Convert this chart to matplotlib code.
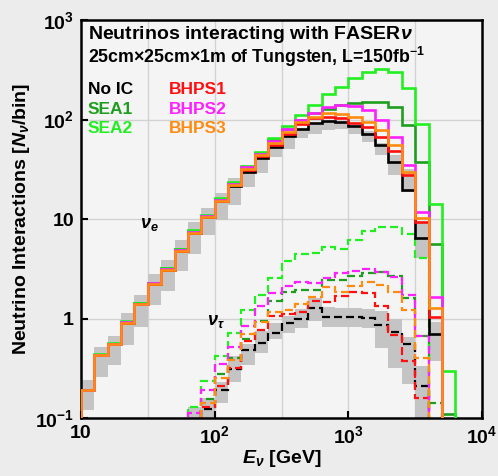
import numpy as np
import matplotlib
matplotlib.use("Agg")
import matplotlib.pyplot as plt
from matplotlib.ticker import NullLocator

plt.rcParams['font.family'] = ['Liberation Sans', 'DejaVu Sans']
plt.rcParams['font.weight'] = 'bold'
plt.rcParams['mathtext.fontset'] = 'custom'
plt.rcParams['mathtext.rm'] = 'Liberation Sans:bold'
plt.rcParams['mathtext.bf'] = 'Liberation Sans:bold'
plt.rcParams['mathtext.it'] = 'Liberation Sans:italic:bold'

# bin edges: 10 bins per decade, 10 GeV .. 10^3.8 GeV
edges = np.logspace(1.0, 3.8, 29)

# electron neutrinos (bins 0..27)
noic_e = [0.19, 0.43, 0.55, 0.91, 1.39, 2.2, 3.1, 4.8, 7.3, 10.4, 15.0, 21.5, 30, 41, 53,
          68, 81, 92, 96, 95, 86, 71, 55, 37, 19.5, 6.4, 0.70, 0.01]
sea1_e = [0.19, 0.43, 0.56, 0.93, 1.42, 2.27, 3.2, 4.95, 7.5, 10.7, 15.7, 22.8, 33, 46, 62,
          81, 100, 117, 127, 140, 148, 151, 150, 133, 89, 37, 5.6, 0.11]
sea2_e = [0.19, 0.44, 0.57, 0.94, 1.44, 2.3, 3.25, 5.05, 7.7, 11.0, 16.1, 23.7, 34, 47.5, 65,
          87, 111, 140, 180, 214, 260, 302, 319, 300, 209, 91, 14, 0.30]
bhps1_e = [0.19, 0.43, 0.55, 0.91, 1.39, 2.2, 3.1, 4.8, 7.3, 10.4, 15.1, 21.8, 31, 43, 56,
           72, 90, 103, 107, 103, 93, 84, 67, 48, 28, 9.3, 1.04, 0.01]
bhps2_e = [0.19, 0.43, 0.56, 0.92, 1.41, 2.25, 3.15, 4.9, 7.45, 10.6, 15.5, 22.5, 33, 45.5, 61,
           80, 100, 117, 133, 140, 138, 124, 99, 67, 35, 11.7, 1.66, 0.01]
bhps3_e = [0.19, 0.43, 0.55, 0.91, 1.39, 2.2, 3.1, 4.8, 7.3, 10.5, 15.2, 22, 32, 44, 57.5,
           75.5, 95, 107, 116, 113, 107, 95, 78.5, 56, 30, 10.2, 1.28, 0.01]
band_e_hi = [0.24, 0.52, 0.67, 1.13, 1.72, 2.8, 3.9, 6.1, 9.4, 12.8, 18.3, 25.8, 35, 45, 56,
             68, 81, 90, 95, 95, 88, 76, 58, 44, 32, 9.1, 0.93]
band_e_lo = [0.12, 0.26, 0.34, 0.54, 0.83, 1.37, 1.9, 3.0, 4.5, 6.9, 9.8, 13.9, 21, 29, 42,
             51, 65, 72, 79, 81, 72, 59, 44, 28, 18.8, 4.05, 0.37]

# tau neutrinos (bins 8..26)
noic_t = [0.08, 0.123, 0.19, 0.31, 0.48, 0.57, 0.71, 0.90, 1.0, 1.28, 1.03, 1.03, 1.04, 1.02,
          0.87, 0.74, 0.56, 0.21, 0.01]
sea1_t = [0.09, 0.155, 0.28, 0.40, 0.62, 0.95, 1.5, 1.85, 1.95, 1.93, 2.44, 2.44, 2.7, 2.84,
          2.9, 2.65, 1.6, 0.67, 0.14]
sea2_t = [0.128, 0.236, 0.42, 0.72, 1.22, 1.72, 2.54, 3.8, 4.5, 4.6, 5.25, 5.0, 6.15, 7.5,
          8.4, 8.4, 7.1, 4.1, 0.01]
bhps1_t = [0.07, 0.13, 0.21, 0.32, 0.59, 0.76, 1.05, 1.10, 1.15, 1.5, 1.48, 1.7, 1.83, 1.8,
           1.35, 0.68, 0.37, 0.16, 0.01]
bhps2_t = [0.113, 0.19, 0.35, 0.52, 0.85, 1.35, 1.8, 2.1, 2.35, 2.29, 2.54, 2.84, 3.02, 3.12,
           2.95, 2.6, 1.74, 0.67, 0.01]
bhps3_t = [0.08, 0.14, 0.25, 0.38, 0.70, 0.93, 1.15, 1.22, 1.40, 1.66, 2.06, 1.86, 2.12, 2.35,
           2.17, 1.86, 1.22, 0.40, 0.01]
band_t_hi = [0.13, 0.16, 0.23, 0.42, 0.55, 0.75, 0.9, 1.05, 1.25, 1.6, 1.3, 1.28, 1.28, 1.26,
             1.2, 1.0, 0.65, 0.33]
band_t_lo = [0.06, 0.09, 0.14, 0.23, 0.34, 0.45, 0.62, 0.72, 0.8, 0.95, 0.82, 0.82, 0.82, 0.8,
             0.5, 0.32, 0.22, 0.05]

models = ['No IC', 'SEA1', 'SEA2', 'BHPS1', 'BHPS2', 'BHPS3']
colors = ['black', '#1e9e1e', '#22ee22', '#ff1010', '#ff20ff', '#ff8c10']
nue = [noic_e, sea1_e, sea2_e, bhps1_e, bhps2_e, bhps3_e]
nutau = [noic_t, sea1_t, sea2_t, bhps1_t, bhps2_t, bhps3_t]

fig = plt.figure(figsize=(4.98, 4.76), dpi=100, facecolor='#ececec')
ax = fig.add_axes([81/498, 1-418/476, 401/498, 398/476])
ax.set_facecolor('#f4f4f4')
ax.set_xscale('log')
ax.set_yscale('log')
ax.set_xlim(10, 1e4)
ax.set_ylim(0.1, 1e3)

# grid: half decades in x, decades in y
for gx in 10 ** np.arange(1.5, 4.0, 0.5):
    ax.axvline(gx, color='#d2d2d2', lw=1, zorder=0)
for gy in [1, 10, 100]:
    ax.axhline(gy, color='#d2d2d2', lw=1, zorder=0)

# uncertainty bands
ax.stairs(band_e_hi, edges[:28], baseline=band_e_lo, fill=True, color='#c4c4c4', lw=0, zorder=1)
ax.stairs(band_t_hi, edges[8:27], baseline=band_t_lo, fill=True, color='#c4c4c4', lw=0, zorder=1)

for vals, c in zip(nutau, colors):
    ax.stairs(vals, edges[8:28], baseline=1e-3, color=c, lw=1.6,
              linestyle=(0, (3.6, 1.8)), zorder=2)
for vals, c in zip(nue, colors):
    ax.stairs(vals, edges, baseline=1e-3, color=c, lw=1.9, zorder=3)

ax.set_xticks([10, 100, 1000, 10000], ['10', r'$10^2$', r'$10^3$', r'$10^4$'])
ax.set_yticks([0.1, 1, 10, 100, 1000], [r'$10^{-1}$', '1', '10', r'$10^2$', r'$10^3$'])
ax.xaxis.set_minor_locator(NullLocator())
ax.yaxis.set_minor_locator(NullLocator())
ax.tick_params(direction='in', length=5, width=1.5, labelsize=14, pad=5)
for s in ax.spines.values():
    s.set_linewidth(1.8)

ax.set_xlabel(r'$E_\nu$ [GeV]', fontsize=14, fontweight='bold', labelpad=1)
ax.set_ylabel(r'Neutrino Interactions [$N_\nu$/bin]', fontsize=14, fontweight='bold', labelpad=2)

ax.text(0.0175, 0.990, r'Neutrinos interacting with FASER$\nu$', transform=ax.transAxes,
        fontsize=14, fontweight='bold', va='top', ha='left')
ax.text(0.0175, 0.938, r'25cm$\times$25cm$\times$1m of Tungsten, L=150fb$^{-1}$',
        transform=ax.transAxes, fontsize=12.8, fontweight='bold', va='top', ha='left')

leg_y = [0.845, 0.795, 0.747]
for i, (name, c) in enumerate(zip(models, colors)):
    x = 0.0175 if i < 3 else 0.219
    ax.text(x, leg_y[i % 3], name, color=c, transform=ax.transAxes,
            fontsize=12.5, fontweight='bold', va='top', ha='left')

ax.text(27.7, 8.9, r'$\nu_e$', fontsize=13, va='center', ha='left')
ax.text(88, 0.94, r'$\nu_\tau$', fontsize=13, va='center', ha='left')

fig.savefig('out.png', dpi=100, facecolor=fig.get_facecolor())
